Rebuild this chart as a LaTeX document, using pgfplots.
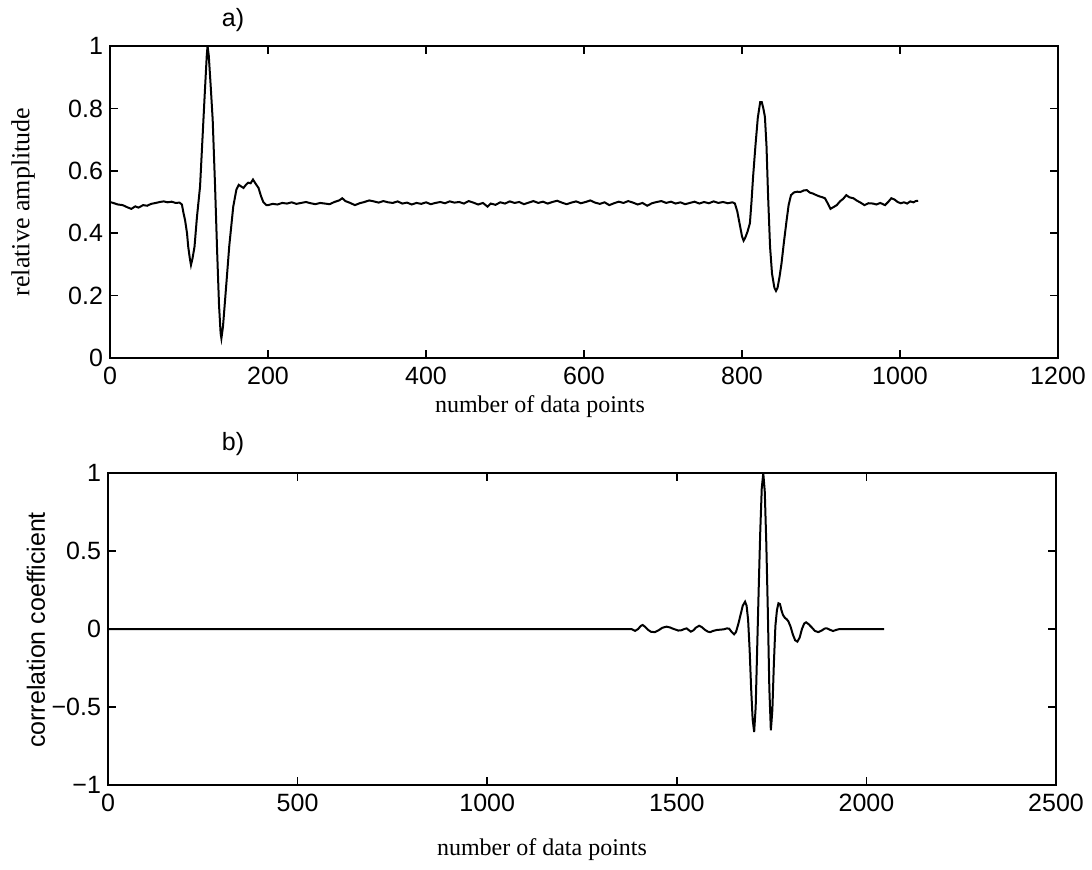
\documentclass[border=0pt]{standalone}
\usepackage{fontspec}
\setmainfont{Liberation Serif}
\newfontfamily\helv{Liberation Sans}
\usepackage{pgfplots}
\pgfplotsset{compat=1.18}

% received pulse (normalised amplitude)
\pgfplotstableread{
x y
0 0.500
4 0.497
10 0.492
16 0.490
22 0.483
27 0.478
32 0.486
36 0.482
42 0.490
47 0.488
52 0.494
58 0.497
63 0.500
68 0.502
73 0.499
78 0.501
83 0.497
88 0.498
91 0.492
93 0.465
95 0.442
97.5 0.400
99 0.357
101 0.320
102.5 0.298
104.5 0.320
107 0.357
110 0.450
114 0.550
117 0.700
120 0.850
122.5 0.970
123.5 1.000
125 0.970
127.5 0.870
130 0.763
133 0.550
135.5 0.350
138 0.170
140 0.080
141 0.063
143 0.100
147 0.229
151 0.360
156 0.485
160 0.540
163 0.555
166 0.550
169 0.545
172 0.555
175 0.562
178 0.560
181 0.572
184 0.560
188 0.545
191 0.520
194 0.500
198 0.490
200 0.490
206 0.494
212 0.492
218 0.497
224 0.495
230 0.499
236 0.494
242 0.497
248 0.500
254 0.496
260 0.493
266 0.497
272 0.495
278 0.493
284 0.500
290 0.505
294 0.512
298 0.503
304 0.497
310 0.490
316 0.496
322 0.500
328 0.505
334 0.502
340 0.498
346 0.503
352 0.499
358 0.497
364 0.502
370 0.495
376 0.498
382 0.492
388 0.497
394 0.494
400 0.499
406 0.493
412 0.497
418 0.500
424 0.496
430 0.502
436 0.498
442 0.500
448 0.495
454 0.503
460 0.498
466 0.492
472 0.497
478 0.485
482 0.495
488 0.491
494 0.499
500 0.495
506 0.502
512 0.497
518 0.500
524 0.493
530 0.498
536 0.503
542 0.497
548 0.501
554 0.495
560 0.500
566 0.504
572 0.498
578 0.493
584 0.498
590 0.502
596 0.496
602 0.500
608 0.505
614 0.498
620 0.494
626 0.499
632 0.490
638 0.496
644 0.501
650 0.497
656 0.503
662 0.498
668 0.492
674 0.497
680 0.488
686 0.496
692 0.500
698 0.503
704 0.497
710 0.501
716 0.495
722 0.499
728 0.493
734 0.497
740 0.501
746 0.495
752 0.500
758 0.496
764 0.502
770 0.497
776 0.500
782 0.496
788 0.499
791 0.495
794 0.470
797 0.430
800 0.390
802 0.376
804 0.385
807 0.405
810 0.432
812 0.500
814 0.580
817 0.680
820 0.770
823 0.820
825 0.820
827 0.800
829 0.773
831 0.680
833 0.520
835.5 0.357
838 0.270
841 0.225
843 0.215
845 0.225
847.5 0.260
850 0.303
853 0.370
856.5 0.442
859 0.490
862 0.522
866 0.531
870 0.533
874 0.532
878 0.537
882 0.538
886 0.530
890 0.527
894 0.522
898 0.518
902 0.515
905 0.512
908 0.498
912 0.478
916 0.484
920 0.490
924 0.502
928 0.510
932 0.522
936 0.515
941 0.512
945 0.505
950 0.498
955 0.490
960 0.496
966 0.495
970 0.492
975 0.497
981 0.490
985 0.500
989 0.512
993 0.508
997 0.500
1001 0.496
1005 0.499
1009 0.495
1013 0.502
1017 0.499
1020 0.503
1023 0.504
}\pulse

% cross-correlation coefficient
\pgfplotstableread{
x y
0 0
1380 0
1390 -0.012
1398 0.000
1405 0.020
1410 0.026
1416 0.015
1424 -0.005
1432 -0.018
1442 -0.020
1452 -0.008
1462 0.008
1473 0.015
1482 0.010
1492 0.000
1504 -0.010
1512 -0.008
1520 0.000
1526 0.004
1531 -0.006
1537 -0.017
1544 -0.008
1550 0.008
1559 0.021
1566 0.012
1574 -0.005
1582 -0.017
1588 -0.020
1596 -0.012
1606 -0.006
1616 -0.004
1624 -0.002
1632 0.004
1638 0.002
1645 -0.020
1651 -0.034
1656 -0.020
1662 0.030
1668 0.090
1674 0.150
1680 0.175
1684 0.150
1688 0.060
1692 -0.130
1696 -0.380
1700 -0.580
1704 -0.660
1708 -0.500
1712 -0.120
1716 0.260
1720 0.620
1724 0.900
1728 1.000
1732 0.880
1736 0.550
1740 0.120
1744 -0.380
1748 -0.650
1752 -0.520
1756 -0.220
1760 0.020
1764 0.120
1768 0.165
1772 0.160
1776 0.120
1780 0.090
1785 0.072
1790 0.062
1794 0.050
1800 0.015
1806 -0.035
1812 -0.072
1818 -0.081
1824 -0.055
1830 0.000
1836 0.035
1841 0.043
1848 0.030
1856 0.010
1864 -0.012
1873 -0.020
1882 -0.010
1890 0.003
1896 0.004
1904 -0.005
1912 -0.013
1920 -0.006
1930 0.000
2047 0.000
}\corr

\pgfplotsset{
  panel/.style={
    scale only axis, width=474pt, height=156pt,
    anchor=south west,
    axis line style={line width=0.9pt},
    tick style={line width=0.8pt, black},
    major tick length=4pt,
    tick align=inside, tick pos=both,
    ticklabel style={font=\helv\fontsize{12.5}{14}\selectfont},
    xticklabel style={yshift=-1pt},
  }
}

\begin{document}
\begin{tikzpicture}[x=1pt,y=1pt]
\useasboundingbox (0,0) rectangle (546,434.5);

\begin{axis}[panel, at={(55pt,255.5pt)},
  xmin=0, xmax=1200, ymin=0, ymax=1,
  xtick={0,200,400,600,800,1000,1200},
  xticklabels={0,200,400,600,800,1000,1200},
  ytick={0,0.2,0.4,0.6,0.8,1},
  yticklabels={0,0.2,0.4,0.6,0.8,1}]
\addplot[black, line width=1pt] table[x=x,y=y] {\pulse};
\end{axis}

\begin{axis}[panel, at={(54pt,42pt)},
  xmin=0, xmax=2500, ymin=-1, ymax=1,
  xtick={0,500,1000,1500,2000,2500},
  xticklabels={0,500,1000,1500,2000,2500},
  ytick={-1,-0.5,0,0.5,1},
  yticklabels={−1,−0.5,0,0.5,1}]
\addplot[black, line width=1pt] table[x=x,y=y] {\corr};
\end{axis}

\node[font=\helv\fontsize{12.5}{14}\selectfont] at (116.5,424.5) {a)};
\node[font=\helv\fontsize{12.5}{14}\selectfont] at (116.5,212.5) {b)};
\node[font=\fontsize{13}{15}\selectfont, rotate=90] at (11.5,333.5) {relative amplitude};
\node[font=\helv\fontsize{12.5}{14}\selectfont, rotate=90] at (18,119.5) {correlation coefficient};
\node[font=\fontsize{12}{14}\selectfont] at (270,231) {number of data points};
\node[font=\fontsize{12}{14}\selectfont] at (271,9.5) {number of data points};
\end{tikzpicture}
\end{document}
